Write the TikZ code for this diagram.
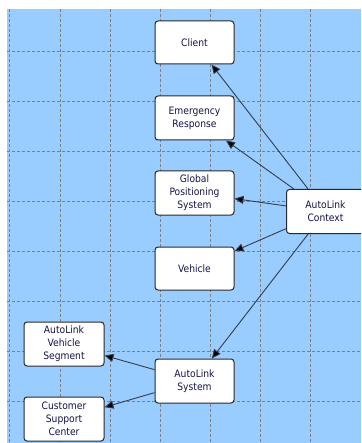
\documentclass[tikz,border=0pt]{standalone}
\usepackage{fontspec}
\setmainfont{DejaVu Sans Condensed}
\usetikzlibrary{arrows.meta}
\definecolor{canvas}{RGB}{153,204,255}
\definecolor{gridline}{RGB}{128,128,128}
\definecolor{boxline}{RGB}{40,40,40}
\definecolor{labeltext}{RGB}{20,20,70}
\definecolor{linkline}{RGB}{55,60,75}
\tikzset{
  block/.style={draw=boxline, fill=white, line width=1pt, rounded corners=3pt,
    minimum width=79pt, minimum height=44pt, inner sep=0pt, align=center,
    text=labeltext, font=\fontsize{10.2}{13}\selectfont},
  link/.style={draw=linkline, line width=0.9pt,
    -{Triangle[length=9pt,width=8pt,fill=black]}},
  gridrule/.style={draw=gridline, line width=0.9pt, dash pattern=on 3pt off 2pt}
}
\begin{document}
\begin{tikzpicture}[x=1pt, y=-1pt]
  \useasboundingbox (0,0) rectangle (361,443);
  \begin{scope}
    \clip (0,0) rectangle (361,443);
    % drawing canvas
    \fill[canvas] (7,9) rectangle (361,443);
    % dashed layout grid
    \foreach \gx in {9.5,60,110,160,210,260,310}
      \draw[gridrule] (\gx,9) -- (\gx,443);
    \foreach \gy in {51,101,151,201,251,301,351,401}
      \draw[gridrule] (7,\gy) -- (361,\gy);

    % blocks
    \node[block, minimum height=43pt] (client) at (194.5,42.5) {Client};
    \node[block] (emerg) at (194.5,118) {Emergency\\Response};
    \node[block] (gps) at (194.5,193) {Global\\Positioning\\System};
    \node[block, minimum height=43pt] (vehicle) at (194.5,268.5) {Vehicle};
    \node[block] (system) at (194.5,381) {AutoLink\\System};
    \node[block, minimum width=78pt] (context) at (325.5,211.5) {AutoLink\\Context};
    \node[block, minimum width=80pt] (segment) at (64,344) {AutoLink\\Vehicle\\Segment};
    \node[block, minimum width=80pt] (support) at (64,419) {Customer\\Support\\Center};

    % links
    \draw[link] (context) -- (client);
    \draw[link] (context) -- (emerg);
    \draw[link] (context) -- (gps);
    \draw[link] (context) -- (vehicle);
    \draw[link] (context) -- (system);
    \draw[link] (system) -- (segment);
    \draw[link] (system) -- (support);
  \end{scope}
\end{tikzpicture}
\end{document}
